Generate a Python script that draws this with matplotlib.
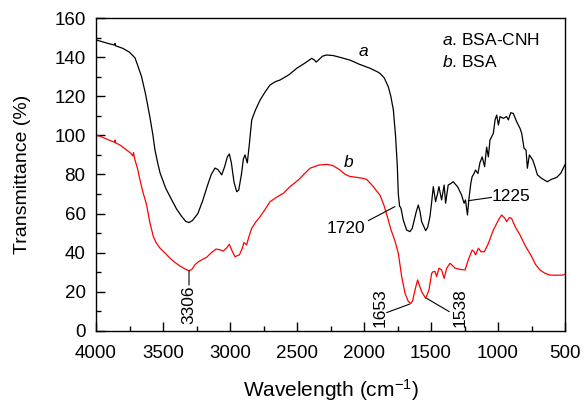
import matplotlib
matplotlib.use('Agg')
import matplotlib.pyplot as plt
from matplotlib.ticker import MultipleLocator

plt.rcParams['font.family'] = ['Liberation Sans', 'DejaVu Sans']
plt.rcParams['mathtext.fontset'] = 'custom'
plt.rcParams['mathtext.rm'] = 'Liberation Sans'
plt.rcParams['mathtext.it'] = 'Liberation Sans:italic'

# curve a: BSA-CNH (wavenumber, transmittance)
wn_a = [4000, 3950, 3900, 3862, 3858, 3854, 3800, 3750, 3709, 3690, 3660, 3630,
        3597, 3575, 3560, 3540, 3522, 3480, 3435, 3400, 3360, 3330, 3306, 3280,
        3240, 3202, 3170, 3140, 3112, 3090, 3062, 3040, 3020, 3005, 2990, 2970,
        2950, 2935, 2915, 2900, 2888, 2871, 2855, 2838, 2810, 2776, 2740, 2701,
        2660, 2627, 2560, 2502, 2440, 2390, 2370, 2358, 2340, 2310, 2278, 2230,
        2179, 2105, 2040, 1955, 1900, 1881, 1850, 1819, 1800, 1781, 1765, 1752,
        1744, 1735, 1724, 1707, 1682, 1657, 1640, 1625, 1610, 1595, 1582, 1570,
        1540, 1525, 1508, 1495, 1483, 1466, 1452, 1441, 1421, 1402, 1391, 1372,
        1350, 1334, 1318, 1302, 1272, 1253, 1243, 1228, 1218, 1203, 1193, 1178,
        1168, 1150, 1135, 1118, 1100, 1085, 1072, 1060, 1035, 1022, 1010, 997,
        985, 960, 936, 923, 905, 886, 861, 836, 823, 806, 791, 781, 766, 741,
        724, 706, 674, 632, 599, 562, 532, 507, 500]
tr_a = [148.8, 147.8, 146.8, 146.2, 147.0, 145.8, 144.5, 142.5, 139.6, 136, 130, 121,
        109, 100, 92.5, 86, 80.8, 73, 67, 62.5, 58.5, 56, 55.4, 56.5,
        60, 67, 74, 80, 83.3, 82.5, 79.8, 84, 89, 90.5, 86, 76,
        71.2, 72, 80, 88, 90, 85.9, 96, 107.9, 113, 118, 122, 125.8,
        127.5, 128.3, 131, 134.3, 137, 139.4, 138.5, 137.5, 138.5, 140.5, 141.1, 140.8,
        139.9, 138.5, 136.5, 134.3, 132.5, 131.7, 129.5, 124.9, 120, 113, 100, 85,
        70, 64, 62.7, 56.7, 51.6, 50.8, 52.5, 56.7, 61, 64.4, 61, 55.9,
        51.3, 53, 58.4, 66, 73.8, 66.1, 70, 73.8, 67, 74.6, 65.3, 74.6,
        75.5, 76.3, 75, 73.8, 69.5, 65.3, 67, 59.3, 67, 75.5, 78.9, 80.6,
        82.3, 80.5, 86, 89, 84, 94, 89, 97.6, 101, 107.9, 110.4, 105.3,
        109.6, 108.7, 109.6, 107.9, 111.6, 111.2, 107, 103.6, 101, 93.4, 92.5, 83.2, 90, 87.4,
        84, 79.8, 78, 76.3, 77.6, 78.5, 80.6, 84, 85]

# curve b: BSA
wn_b = [4000, 3950, 3900, 3862, 3858, 3854, 3820, 3771, 3740, 3725, 3720, 3715,
        3709, 3690, 3672, 3650, 3622, 3600, 3572, 3550, 3522, 3480, 3448, 3410,
        3373, 3330, 3306, 3285, 3260, 3236, 3200, 3174, 3140, 3104, 3075, 3050,
        3025, 3005, 2985, 2963, 2945, 2930, 2910, 2896, 2876, 2860, 2838, 2810,
        2776, 2740, 2701, 2650, 2602, 2552, 2490, 2450, 2403, 2340, 2278, 2230,
        2179, 2140, 2105, 2060, 2005, 1981, 1960, 1930, 1900, 1881, 1850, 1819,
        1800, 1769, 1744, 1719, 1694, 1669, 1650, 1637, 1625, 1610, 1600, 1585,
        1570, 1540, 1515, 1495, 1483, 1470, 1458, 1441, 1421, 1402, 1383, 1358,
        1340, 1321, 1284, 1246, 1222, 1193, 1178, 1168, 1146, 1127, 1102, 1072,
        1035, 997, 973, 948, 936, 915, 899, 870, 836, 800, 749, 720,
        687, 650, 612, 560, 513, 500]
tr_b = [100.2, 99, 97.5, 96.5, 97.6, 96.2, 95, 92.5, 90.8, 89.5, 91.2, 89.2,
        87.4, 83, 77.2, 71, 64.4, 56, 48.2, 45, 42.3, 39.5, 37.2, 35,
        33.2, 31.5, 30.8, 31.5, 34, 35.4, 36.8, 37.7, 40, 41.9, 41.5, 40.9,
        42.5, 44.3, 41, 38, 38.5, 38.9, 42, 45.2, 44, 48, 52.5, 55.5,
        58.4, 62, 66.1, 68.5, 70.4, 73.8, 77.2, 80, 83.2, 84.8, 85.2, 84.5,
        82.3, 80, 79, 78.6, 78, 77.5, 76, 73.8, 71, 69.5, 64, 56.8,
        52, 46, 39.7, 27.8, 19.3, 15, 14.1, 15.5, 19.3, 23.5, 26.1, 23,
        20.1, 16.7, 21, 29.5, 30.4, 30.4, 27.8, 32.1, 31.2, 26.9, 32.1, 34.6,
        33.5, 32.1, 31.5, 31.2, 36.3, 41.4, 40.5, 38.9, 42.3, 40.5, 40.5, 44.8,
        51.6, 56.7, 59.3, 57.6, 55.9, 58, 57.6, 53, 49.1, 44, 38, 34,
        31.2, 29.5, 28.6, 28.5, 28.6, 29]

fig = plt.figure(figsize=(5.84, 4.03), dpi=100)
ax = fig.add_axes([0.1644, 0.1787, 0.8031, 0.7766])

ax.plot(wn_a, tr_a, color='black', lw=0.9)
ax.plot(wn_b, tr_b, color='red', lw=0.9)

ax.set_xlim(4000, 500)
ax.set_ylim(0, 160)
ax.xaxis.set_major_locator(MultipleLocator(500))
ax.xaxis.set_minor_locator(MultipleLocator(250))
ax.yaxis.set_major_locator(MultipleLocator(20))
ax.yaxis.set_minor_locator(MultipleLocator(10))
ax.tick_params(which='both', direction='in', labelsize=13.5, width=1)
ax.tick_params(which='major', length=6.5)
ax.tick_params(which='minor', length=3.6)
ax.tick_params(axis='x', which='both', pad=10)
ax.tick_params(axis='y', which='both', pad=7.5)
for s in ax.spines.values():
    s.set_linewidth(1)

ax.set_xlabel('Wavelength (cm$^{-1}$)', fontsize=15, labelpad=11)
ax.set_ylabel('Transmittance (%)', fontsize=14, labelpad=17)

# curve labels and legend text
ax.text(2007, 143, 'a', style='italic', fontsize=12.5, ha='center', va='center')
ax.text(2119, 86, 'b', style='italic', fontsize=12.5, ha='center', va='center')
ax.text(1421, 148.8, '$\\it{a}$. BSA-CNH', fontsize=12.5, ha='left', va='center')
ax.text(1421, 137.7, '$\\it{b}$. BSA', fontsize=12.5, ha='left', va='center')

# peak annotations
line = dict(arrowstyle='-', color='black', lw=0.8, shrinkA=0, shrinkB=0)
ax.annotate('', xy=(3306, 30.8), xytext=(3306, 23.5), arrowprops=line)
ax.text(3306, 13.3, '3306', rotation=90, fontsize=12.5, ha='center', va='center')
ax.annotate('', xy=(1769, 63.6), xytext=(1968, 56.4), arrowprops=line)
ax.text(1993, 52.4, '1720', fontsize=12.5, ha='right', va='center')
ax.annotate('', xy=(1222, 66.6), xytext=(1048, 68.3), arrowprops=line)
ax.text(1048, 68.8, '1225', fontsize=12.5, ha='left', va='center')
ax.annotate('', xy=(1657, 13.8), xytext=(1831, 9.4), arrowprops=line)
ax.text(1881, 12, '1653', rotation=90, fontsize=12.5, ha='center', va='center')
ax.annotate('', xy=(1533, 16.7), xytext=(1364, 9.9), arrowprops=line)
ax.text(1284, 11.8, '1538', rotation=90, fontsize=12.5, ha='center', va='center')

fig.savefig('out.png', dpi=100)
